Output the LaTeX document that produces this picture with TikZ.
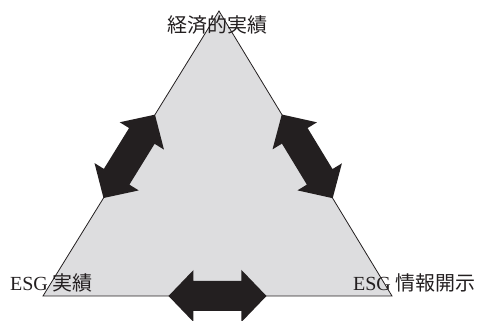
\documentclass[tikz,border=0pt]{standalone}
\usepackage{fontspec}
\setmainfont{Liberation Serif}
\newfontfamily\jp{Noto Sans CJK JP}
\usetikzlibrary{calc}
\definecolor{trifill}{RGB}{221,221,223}
\definecolor{ink}{RGB}{35,31,32}
\tikzset{
 lbl/.style={font=\fontsize{15}{18}\selectfont, inner sep=0pt, text=ink},
 tri/.style={fill=trifill, draw=ink, line width=0.6pt, line join=miter},
 blockarrow/.style={fill=ink},
}
\newcommand\dblblockarrow[2]{%
 \begin{scope}[shift={(#1)}, rotate=#2]
 \fill[blockarrow] (-49,0) -- (-24,26) -- (-24,15) -- (24,15) -- (24,26) -- (49,0) -- (24,-26) -- (24,-15) -- (-24,-15) -- (-24,-26) -- cycle;
 \end{scope}}
\begin{document}
\begin{tikzpicture}[x=0.75pt,y=0.75pt]
\useasboundingbox (0,0) rectangle (480,321);
\coordinate (A) at (219,310);
\coordinate (B) at (43,25);
\coordinate (C) at (392,25);
\draw[tri] (A) -- (B) -- (C) -- cycle;
\coordinate (mL) at ($(B)!0.49!(A)$);
\coordinate (mR) at ($(C)!0.49!(A)$);
\coordinate (mB) at ($(B)!0.5!(C)$);
\dblblockarrow{mL}{58.3}
\dblblockarrow{mR}{121.3}
\dblblockarrow{mB}{0}
\node[lbl, anchor=base] (econ) at (217.5,288) {\jp 経済的実績};
\node[lbl, anchor=base] (esgres) at (51.5,30) {ESG {\jp 実績}};
\node[lbl, anchor=base] (esgdisc) at (414.5,30) {ESG {\jp 情報開示}};
\end{tikzpicture}
\end{document}
